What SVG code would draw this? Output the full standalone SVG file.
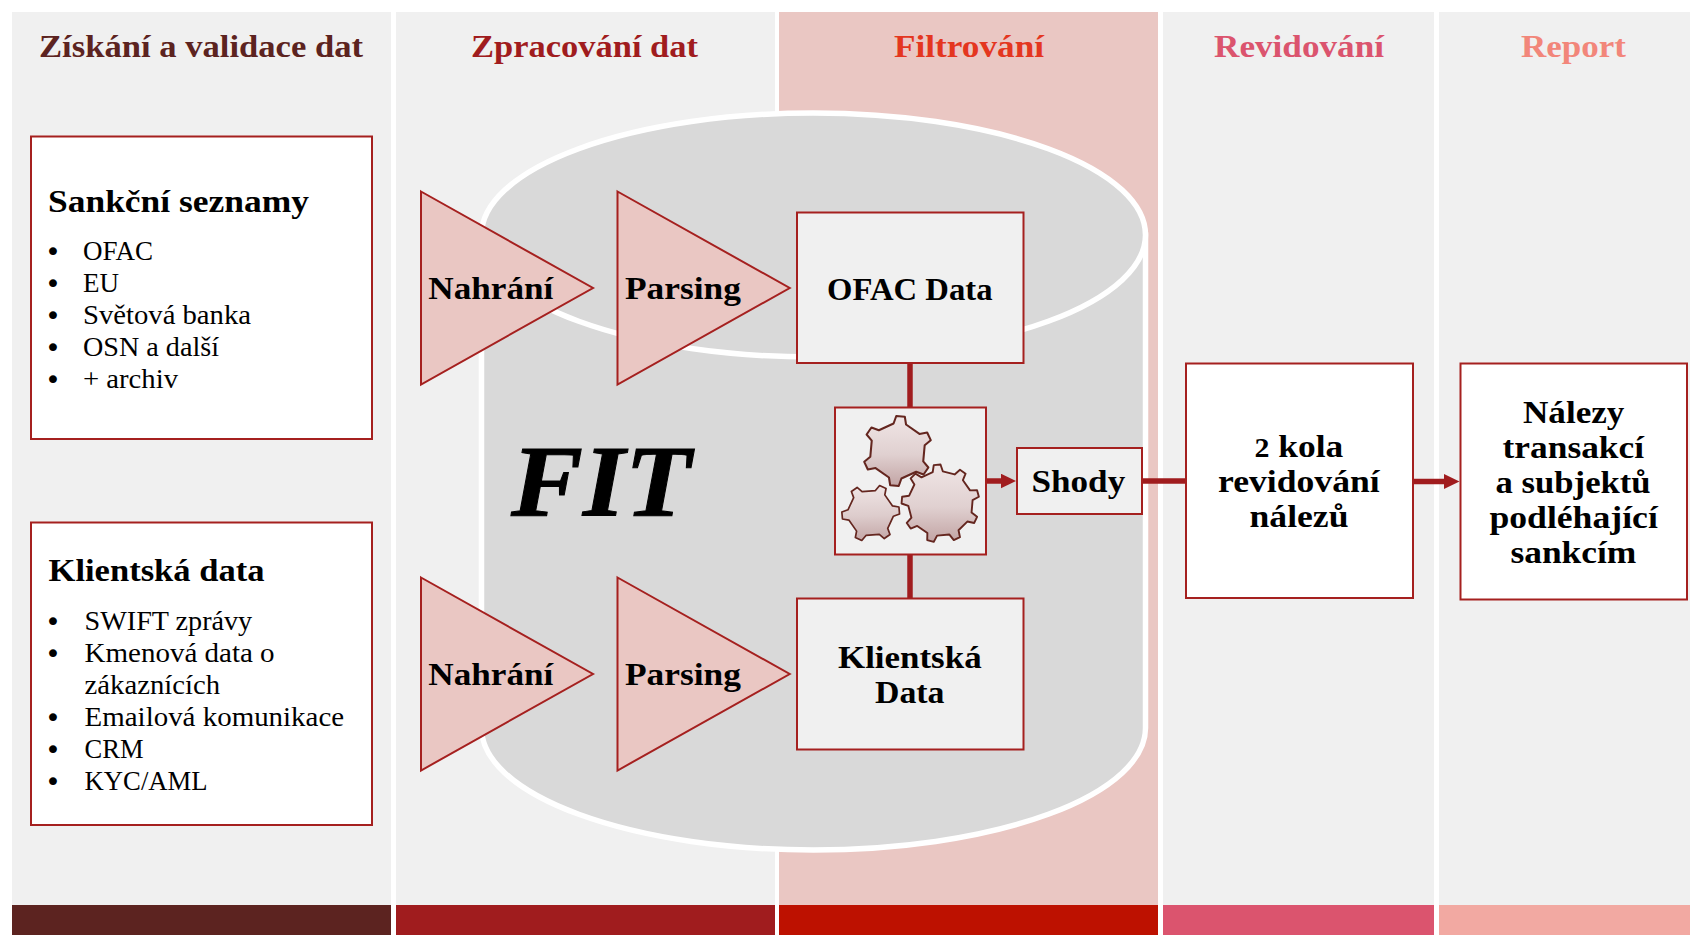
<svg xmlns="http://www.w3.org/2000/svg" width="1690" height="935" viewBox="0 0 1690 935">
<style>
text{font-family:"Liberation Serif","Times New Roman",serif;fill:#000}
.t{font-size:32px;font-weight:700}
.b{font-size:32px;font-weight:700}
.r{font-size:27.5px}
.bu{font-size:27px;font-family:"DejaVu Sans",sans-serif}
.box{fill:#fff;stroke:#a5201f;stroke-width:2}
.gbox{fill:#f0f0f0;stroke:#a5201f;stroke-width:2}
.tri{fill:#eac7c3;stroke:#a5201f;stroke-width:2;stroke-linejoin:miter}
.gear{stroke:#64261f;stroke-width:2;stroke-linejoin:round}
.con{stroke:#a01c1e;stroke-width:5.5;fill:none}
.cyl{fill:#d9d9d9;stroke:#fff;stroke-width:5.5}
</style>
<defs>
<linearGradient id="gf" x1="0" y1="0" x2="0" y2="1"><stop offset="0" stop-color="#f0e6e6"/><stop offset=".55" stop-color="#e0d0d0"/><stop offset="1" stop-color="#c2a4a4"/></linearGradient>
<linearGradient id="gf3" x1="0" y1="0" x2="0" y2="1" gradientTransform="rotate(-20 .5 .5)"><stop offset="0" stop-color="#f0e6e6"/><stop offset=".55" stop-color="#ddcccc"/><stop offset="1" stop-color="#c2a4a4"/></linearGradient>
<path id="g6" d="M-3.8-26.7L-1.2-34L7.1-33.3L8.3-25.7L21.3-16.6L28.8-18L32.3-10.5L26.4-5.6L25 10.1L30 16L25.3 22.8L18.1 20.1L3.8 26.7L1.2 34L-7.1 33.3L-8.3 25.7L-21.3 16.6L-28.8 18L-32.3 10.5L-26.4 5.6L-25-10.1L-30-16L-25.3-22.8L-18.1-20.1Z"/>
<marker id="ah" markerUnits="userSpaceOnUse" markerWidth="16" markerHeight="16" refX="0.5" refY="7.5" orient="auto"><path d="M0 0L15.5 7.5L0 15Z" fill="#a01c1e"/></marker>
</defs>
<g id="columns">
<rect x="12" y="12" width="379" height="893" fill="#f0f0f0"/>
<rect x="396" y="12" width="379" height="893" fill="#f0f0f0"/>
<rect x="779" y="12" width="379" height="893" fill="#eac7c3"/>
<rect x="1163" y="12" width="271" height="893" fill="#f0f0f0"/>
<rect x="1439" y="12" width="251" height="893" fill="#f0f0f0"/>
<rect x="12" y="905" width="379" height="30" fill="#5c2320"/>
<rect x="396" y="905" width="379" height="30" fill="#a01c1e"/>
<rect x="779" y="905" width="379" height="30" fill="#bd1100"/>
<rect x="1163" y="905" width="271" height="30" fill="#db546e"/>
<rect x="1439" y="905" width="251" height="30" fill="#f2a9a2"/>
<text class="t" x="39" y="56.5" textLength="324" lengthAdjust="spacingAndGlyphs" style="fill:#5c2320">Získání a validace dat</text>
<text class="t" x="471" y="56.5" textLength="227" lengthAdjust="spacingAndGlyphs" style="fill:#a01c1e">Zpracování dat</text>
<text class="t" x="894" y="56.5" textLength="150" lengthAdjust="spacingAndGlyphs" style="fill:#e4361f">Filtrování</text>
<text class="t" x="1214" y="56.5" textLength="170" lengthAdjust="spacingAndGlyphs" style="fill:#db546e">Revidování</text>
<text class="t" x="1521" y="56.5" textLength="105" lengthAdjust="spacingAndGlyphs" style="fill:#f2867a">Report</text>
</g>
<g id="cylinder">
<path class="cyl" d="M481.5 235V728A332 122 0 0 0 1145.5 728V235Z"/>
<ellipse class="cyl" cx="813.5" cy="235" rx="332" ry="122"/>
<text x="511" y="515.5" font-size="102" font-weight="700" font-style="italic" textLength="180" lengthAdjust="spacingAndGlyphs" stroke="#000" stroke-width="1">FIT</text>
</g>
<g id="connectors">
<line class="con" x1="910" y1="363" x2="910" y2="407"/>
<line class="con" x1="910" y1="554" x2="910" y2="598"/>
<line class="con" x1="986" y1="481" x2="1001" y2="481" marker-end="url(#ah)"/>
<line class="con" x1="1142" y1="481" x2="1186" y2="481"/>
<line class="con" x1="1413" y1="481.5" x2="1444.5" y2="481.5" marker-end="url(#ah)"/>
</g>
<g id="sankcni">
<rect class="box" x="31" y="136.5" width="341" height="302.5"/>
<text class="b" x="48" y="211.8" textLength="261" lengthAdjust="spacingAndGlyphs">Sankční seznamy</text>
<text class="bu" x="45" y="260.5">•</text><text class="r" x="83" y="259.7" textLength="70" lengthAdjust="spacingAndGlyphs">OFAC</text>
<text class="bu" x="45" y="292.5">•</text><text class="r" x="83" y="291.7" textLength="36" lengthAdjust="spacingAndGlyphs">EU</text>
<text class="bu" x="45" y="324.5">•</text><text class="r" x="83" y="323.7" textLength="168" lengthAdjust="spacingAndGlyphs">Světová banka</text>
<text class="bu" x="45" y="356.5">•</text><text class="r" x="83" y="355.7" textLength="136" lengthAdjust="spacingAndGlyphs">OSN a další</text>
<text class="bu" x="45" y="388.5">•</text><text class="r" x="83" y="387.7" textLength="95" lengthAdjust="spacingAndGlyphs">+ archiv</text>
</g>
<g id="klientska">
<rect class="box" x="31" y="522.5" width="341" height="302.5"/>
<text class="b" x="48.5" y="580.8" textLength="216" lengthAdjust="spacingAndGlyphs">Klientská data</text>
<text class="bu" x="45" y="630.5">•</text><text class="r" x="84.6" y="629.7" textLength="167.6" lengthAdjust="spacingAndGlyphs">SWIFT zprávy</text>
<text class="bu" x="45" y="662.5">•</text><text class="r" x="84.6" y="661.7" textLength="190" lengthAdjust="spacingAndGlyphs">Kmenová data o</text>
<text class="r" x="84.6" y="693.7" textLength="135.5" lengthAdjust="spacingAndGlyphs">zákaznících</text>
<text class="bu" x="45" y="726.5">•</text><text class="r" x="84.6" y="725.7" textLength="259.5" lengthAdjust="spacingAndGlyphs">Emailová komunikace</text>
<text class="bu" x="45" y="758.5">•</text><text class="r" x="84.6" y="757.7" textLength="59" lengthAdjust="spacingAndGlyphs">CRM</text>
<text class="bu" x="45" y="790.5">•</text><text class="r" x="84.6" y="789.7" textLength="123" lengthAdjust="spacingAndGlyphs">KYC/AML</text>
</g>
<g id="nahrani1">
<polygon class="tri" points="421,191.5 593,288 421,384.5"/>
<text class="b" x="428.3" y="299" textLength="125" lengthAdjust="spacingAndGlyphs">Nahrání</text>
</g>
<g id="parsing1">
<polygon class="tri" points="617.5,191.5 789.7,288 617.5,384.5"/>
<text class="b" x="625" y="299" textLength="116" lengthAdjust="spacingAndGlyphs">Parsing</text>
</g>
<g id="nahrani2">
<polygon class="tri" points="421,577.5 593,674 421,770.5"/>
<text class="b" x="428.3" y="685" textLength="125" lengthAdjust="spacingAndGlyphs">Nahrání</text>
</g>
<g id="parsing2">
<polygon class="tri" points="617.5,577.5 789.7,674 617.5,770.5"/>
<text class="b" x="625" y="685" textLength="116" lengthAdjust="spacingAndGlyphs">Parsing</text>
</g>
<g id="ofac">
<rect class="gbox" x="797" y="212.5" width="226.5" height="150.5"/>
<text class="b" x="827" y="299.7" textLength="165.5" lengthAdjust="spacingAndGlyphs">OFAC Data</text>
</g>
<g id="engine">
<rect class="gbox" x="835" y="407.5" width="151" height="147"/>
<use href="#g6" class="gear" fill="url(#gf)" transform="translate(897.5 451) scale(1.03)"/>
<path class="gear" fill="url(#gf)" transform="translate(940.5 503.5) scale(.95)" d="M-8.2-33L-7.1-40.4L0-41L2.4-33.9L14.9-30.6L20.5-35.5L26.4-31.4L23.6-24.5L31.1-13.8L38.5-14L40.4-7.1L33.8-3.6L32.7 9.4L38.5 14L35.5 20.5L28.2 19L19 28.2L20.5 35.5L14 38.5L9.4 32.7L-3.6 33.8L-7.1 40.4L-14 38.5L-13.8 31.1L-24.5 23.6L-31.4 26.4L-35.5 20.5L-30.6 14.9L-33.9 2.4L-41 0L-40.4-7.1L-33-8.2L-27.5-20L-31.4-26.4L-26.4-31.4L-20-27.5Z"/>
<use href="#g6" class="gear" fill="url(#gf3)" transform="translate(870.7 513) rotate(20) scale(.85)"/>
</g>
<g id="shody">
<rect class="gbox" x="1017" y="448" width="125" height="66"/>
<text class="b" x="1031.5" y="491.7" textLength="93.7" lengthAdjust="spacingAndGlyphs">Shody</text>
</g>
<g id="klient-data">
<rect class="gbox" x="797" y="598.5" width="226.5" height="151"/>
<text class="b" x="838" y="667.7" textLength="143.6" lengthAdjust="spacingAndGlyphs">Klientská</text>
<text class="b" x="875" y="702.7" textLength="69.5" lengthAdjust="spacingAndGlyphs">Data</text>
</g>
<g id="revize">
<rect class="box" x="1186" y="363.5" width="227" height="234.5"/>
<text class="b" x="1254.5" y="456.7" textLength="88.7" lengthAdjust="spacingAndGlyphs"><tspan font-size="27">2</tspan> kola</text>
<text class="b" x="1218" y="491.7" textLength="161.7" lengthAdjust="spacingAndGlyphs">revidování</text>
<text class="b" x="1249.5" y="526.7" textLength="99" lengthAdjust="spacingAndGlyphs">nálezů</text>
</g>
<g id="report">
<rect class="box" x="1460.5" y="363.5" width="226.5" height="236"/>
<text class="b" x="1523" y="422.7" textLength="101.4" lengthAdjust="spacingAndGlyphs">Nálezy</text>
<text class="b" x="1502.6" y="457.7" textLength="141.4" lengthAdjust="spacingAndGlyphs">transakcí</text>
<text class="b" x="1495.6" y="492.7" textLength="155" lengthAdjust="spacingAndGlyphs">a subjektů</text>
<text class="b" x="1489.4" y="527.7" textLength="168.4" lengthAdjust="spacingAndGlyphs">podléhající</text>
<text class="b" x="1510.4" y="563.4" textLength="126" lengthAdjust="spacingAndGlyphs">sankcím</text>
</g>
</svg>
